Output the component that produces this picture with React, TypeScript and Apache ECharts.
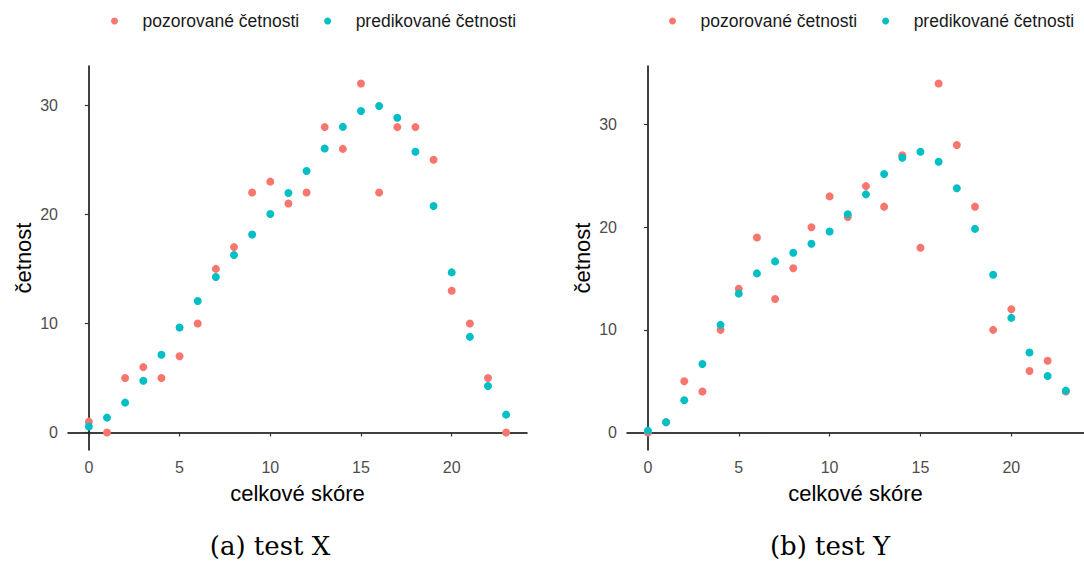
import React, { useEffect, useRef } from "react";
import * as echarts from "echarts";

const scores = [0, 1, 2, 3, 4, 5, 6, 7, 8, 9, 10, 11, 12, 13, 14, 15, 16, 17, 18, 19, 20, 21, 22, 23];
const obsX = [1, 0, 5, 6, 5, 7, 10, 15, 17, 22, 23, 21, 22, 28, 26, 32, 22, 28, 28, 25, 13, 10, 5, 0];
const predX = [0.55, 1.37, 2.74, 4.75, 7.13, 9.63, 12.06, 14.26, 16.27, 18.15, 20.04, 21.96, 23.97, 26.04, 28.02, 29.48, 29.94, 28.85, 25.74, 20.77, 14.68, 8.77, 4.26, 1.64];
const obsY = [0, 1, 5, 4, 10, 14, 19, 13, 16, 20, 23, 21, 24, 22, 27, 18, 34, 28, 22, 10, 12, 6, 7, 4];
const predY = [0.19, 1.0, 3.14, 6.67, 10.49, 13.53, 15.5, 16.67, 17.51, 18.38, 19.58, 21.26, 23.2, 25.18, 26.76, 27.35, 26.38, 23.79, 19.84, 15.37, 11.17, 7.8, 5.5, 4.08];
const xTicks = [0, 5, 10, 15, 20];
const yTicks = [0, 10, 20, 30];
const seriesNames = ["pozorované četnosti", "predikované četnosti"];
const captions = ["(a) test X", "(b) test Y"];
const xTitle = "celkové skóre";
const yTitle = "četnost";

const RED = "#F8766D";
const TEAL = "#00BFC4";
const SANS = "'Liberation Sans', Arial, sans-serif";

function pairs(vals: number[]) {
  return scores.map((s, i) => [s, vals[i]]);
}

function xAxis(gridIndex: number, max: number) {
  return {
    type: "value",
    gridIndex,
    min: -1.15,
    max,
    splitLine: { show: false },
    axisLine: { show: true, lineStyle: { color: "#000", width: 1.5 } },
    axisTick: { show: true, customValues: xTicks, length: 4, lineStyle: { color: "#333", width: 1.2 } },
    axisLabel: { customValues: xTicks, color: "#4D4D4D", fontSize: 16, fontFamily: SANS, margin: 9 },
    name: xTitle,
    nameLocation: "middle",
    nameGap: 32,
    nameTextStyle: { color: "#000", fontSize: 22, fontFamily: SANS },
  };
}

function yAxis(gridIndex: number, min: number, max: number) {
  return {
    type: "value",
    gridIndex,
    min,
    max,
    splitLine: { show: false },
    axisLine: { show: true, lineStyle: { color: "#000", width: 1.5 } },
    axisTick: { show: true, customValues: yTicks, length: 4, lineStyle: { color: "#333", width: 1.2 } },
    axisLabel: { customValues: yTicks, color: "#4D4D4D", fontSize: 16, fontFamily: SANS, margin: 10 },
    name: yTitle,
    nameLocation: "middle",
    nameRotate: 90,
    nameGap: 34,
    nameTextStyle: { color: "#000", fontSize: 22, fontFamily: SANS },
  };
}

function legend(left: number) {
  return {
    left,
    top: 7,
    icon: "circle",
    itemWidth: 46,
    itemHeight: 7,
    itemGap: 25,
    data: seriesNames,
    textStyle: { color: "#1a1a1a", fontSize: 17.5, fontFamily: SANS, padding: 0 },
  };
}

function scatter(name: string, color: string, vals: number[], idx: number) {
  return {
    type: "scatter",
    name,
    xAxisIndex: idx,
    yAxisIndex: idx,
    symbolSize: 8,
    itemStyle: { color, opacity: 1 },
    data: pairs(vals),
  };
}

export default function App() {
  const ref = useRef<HTMLDivElement>(null);
  useEffect(() => {
    if (!ref.current) return;
    const chart = echarts.init(ref.current, null, { renderer: "svg" });
    chart.setOption({
      animation: false,
      backgroundColor: "#fff",
      grid: [
        { left: 68, top: 66, width: 459, height: 384 },
        { left: 627, top: 66, width: 457, height: 384 },
      ],
      legend: [legend(106), legend(664)],
      xAxis: [xAxis(0, 24.15), xAxis(1, 24.0)],
      yAxis: [yAxis(0, -1.6, 33.6), yAxis(1, -1.7, 35.7)],
      series: [
        scatter(seriesNames[0], RED, obsX, 0),
        scatter(seriesNames[1], TEAL, predX, 0),
        scatter(seriesNames[0], RED, obsY, 1),
        scatter(seriesNames[1], TEAL, predY, 1),
      ],
      graphic: [
        {
          type: "text",
          x: 270,
          y: 546,
          style: { text: captions[0], font: "26px 'DejaVu Serif', serif", fill: "#000", align: "center", verticalAlign: "middle" },
        },
        {
          type: "text",
          x: 830,
          y: 546,
          style: { text: captions[1], font: "26px 'DejaVu Serif', serif", fill: "#000", align: "center", verticalAlign: "middle" },
        },
      ],
    });
    return () => chart.dispose();
  }, []);
  return (
    <div
      ref={ref}
      style={{ position: "fixed", left: 0, top: 0, width: 1084, height: 567, background: "#fff" }}
    />
  );
}
